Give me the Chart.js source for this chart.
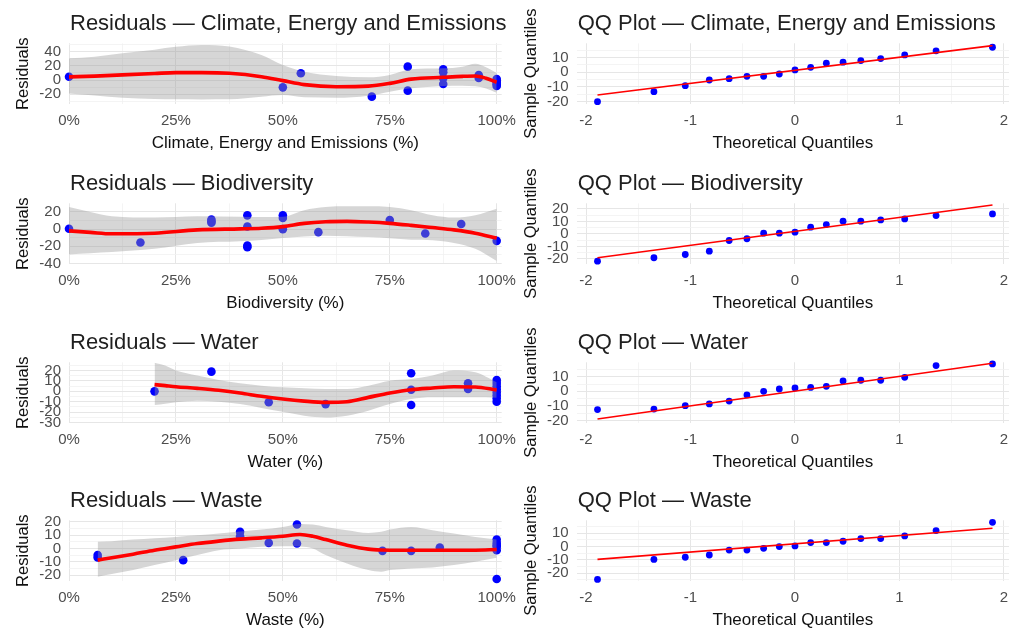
<!DOCTYPE html>
<html>
<head>
<meta charset="utf-8">
<script src="https://cdn.jsdelivr.net/npm/chart.js@4.4.1/dist/chart.umd.min.js"></script>
<style>
  html, body { margin: 0; padding: 0; background: #fff; }
  #page { position: relative; width: 1009px; height: 632px; overflow: hidden; background: #fff; }
  #page canvas { position: absolute; }
</style>
</head>
<body>
<div id="page"></div>
<script>
// ---------- data ----------
const theoQ = [-1.89, -1.35, -1.05, -0.82, -0.63, -0.46, -0.30, -0.15, 0, 0.15, 0.30, 0.46, 0.63, 0.82, 1.05, 1.35, 1.89];
const qqLineX = [-1.89, 1.89];

const pctMajor = [0, 25, 50, 75, 100];
const pctMinor = [12.5, 37.5, 62.5, 87.5];
const qqMajor = [-2, -1, 0, 1, 2];
const qqMinor = [-1.5, -0.5, 0.5, 1.5];

// Climate, Energy and Emissions
const climX = [0, 50, 54.2, 70.8, 79.2, 79.2, 87.5, 87.5, 87.5, 87.5, 95.8, 95.8, 100, 100, 100, 100, 100];
const climResid = [4.7, -10.4, 9.5, -23.6, 18.9, -15.1, 15.1, 11, 2.4, -5.7, 7.1, 3, 1.5, -1.5, -3.8, -6, -8.5];
const climGrid = [0, 6, 12.5, 20, 25, 31, 37.5, 45, 50, 55, 62.5, 70, 75, 80, 87.5, 92, 95, 97.5, 100];
const climFit = [4.5, 5.5, 7.3, 9.2, 10.4, 10.4, 9.5, 4.7, -0.9, -6.5, -9.5, -8.7, -4.8, 1.2, 3.8, 5.2, 5.7, 2.5, -3.2];
const climHi = [30.7, 33, 37.8, 43, 47, 49.6, 47.5, 35.5, 21.3, 11.8, 5.7, 3.8, 7.1, 15.1, 16.5, 18.9, 23, 18, 10];
const climLo = [-19, -22, -25, -27, -27.4, -27.6, -27.4, -23.6, -21.3, -24.6, -25.1, -22.2, -16.5, -11.8, -8.5, -8, -9, -12, -18];
const climQQ = [-20.2, -13.3, -9.2, -5.3, -4.4, -2.8, -2.8, -1.2, 1.6, 3.4, 6.2, 6.9, 8, 9.4, 11.9, 14.7, 17.2];
const climQQLine = [-15.6, 18.3];

// Biodiversity
const bioX = [0, 16.7, 33.3, 33.3, 33.3, 41.7, 41.7, 41.7, 41.7, 50, 50, 50, 58.3, 75, 83.3, 91.7, 100];
const bioResid = [0.5, -15.5, 11, 9, 7.5, 16, 3, -19, -21, 16, 13, 0, -3.5, 10.5, -5, 6, -13.6];
const bioGrid = [0, 5, 10, 20, 30, 40, 45, 50, 55, 60, 65, 70, 75, 80, 85, 90, 95, 100];
const bioFit = [-2, -3.8, -5.4, -4.7, -0.9, 0.3, 1, 2.9, 6.7, 8.6, 9, 8.2, 6.7, 4.4, 1.8, -0.9, -4.7, -10.4];
const bioHi = [25.7, 20, 15, 13.5, 15, 14.3, 14, 14.3, 22, 25.7, 26.5, 26.5, 25.7, 22, 16.2, 13.5, 16.2, 23.8];
const bioLo = [-29.4, -28, -26.7, -22.9, -16, -14.2, -12.5, -10.4, -8.5, -7.7, -8.2, -9.2, -10.5, -12.3, -13, -16, -22.9, -37];
const bioQQ = [-21.8, -19.1, -16.5, -13.8, -5.3, -3.9, 0.6, 0.6, 1.4, 5.4, 7.5, 10.2, 10.2, 11.2, 12, 14.7, 16];
const bioQQLine = [-19.1, 23.2];

// Water
const waterX = [20, 33.3, 46.7, 60, 80, 80, 80, 93.3, 93.3, 100, 100, 100, 100, 100, 100, 100, 100];
const waterResid = [0, 19, -10.5, -12.3, 17.4, 1.6, -13.2, 7.7, 2.3, 11, 8, 5, 2, -1, -4, -7, -10];
const waterGrid = [20, 22.5, 25, 30, 35, 40, 45, 50, 55, 60, 65, 70, 75, 80, 85, 90, 95, 100];
const waterFit = [6.5, 5.5, 4.5, 2.9, 1, -1.6, -4.8, -7.4, -9.4, -10.6, -10, -5.8, -1.6, 1.6, 3.2, 4.5, 4.2, 1.3];
const waterHi = [27.5, 24.8, 20, 15.2, 11, 7.7, 5.5, 3.9, 3, 2.3, 2.3, 5.5, 10.3, 11.9, 15.2, 20, 18.4, 8.7];
const waterLo = [-13.2, -12, -10.6, -9, -10, -12.3, -16, -19.7, -23.5, -25.2, -23.5, -18.7, -12.3, -7.4, -5.8, -5.8, -5.8, -6.1];
const waterQQ = [-12.6, -12.2, -9.9, -8.7, -6.7, -2.5, 0, 1.6, 2.3, 2.7, 3.4, 7.1, 7.6, 7.6, 9.6, 17.7, 18.8];
const waterQQLine = [-19.1, 19.3];

// Waste
const wasteX = [6.7, 6.7, 26.7, 40, 40, 46.7, 53.3, 53.3, 73.3, 80, 86.7, 100, 100, 100, 100, 100, 100];
const wasteResid = [-5, -6.8, -8.8, 12.5, 9.2, 4.2, 18, 3.7, -1.8, -1.8, 0.7, 6.7, 4.2, 2.5, 1.2, -1.3, -23];
const wasteGrid = [6.7, 10, 15, 20, 25, 30, 35, 40, 45, 50, 54, 57, 60, 65, 70, 73, 75, 80, 85, 90, 95, 100];
const wasteFit = [-8.8, -7, -4.3, -1.3, 1.2, 3.7, 5.5, 7, 8, 9.2, 10.5, 9.2, 6.7, 2.5, -0.5, -1.2, -1.3, -1.3, -1.3, -1.3, -1.3, -0.8];
const wasteHi = [5, 5.5, 6.7, 7.7, 8.7, 9.9, 11.2, 12.7, 14.2, 16.2, 18.5, 18, 16.2, 13.7, 11.7, 12.5, 14.2, 16.2, 13.7, 11.2, 8.7, 6.7];
const wasteLo = [-21.3, -19.3, -16.3, -12.5, -8.8, -5, -1.3, 0, 1.2, 1.7, 1.5, 0, -5, -11.3, -16.3, -17.5, -16.3, -15, -14.3, -12.5, -10, -7];
const wasteQQ = [-24.6, -9.6, -8, -6.3, -2.6, -2.6, -1.3, 0, 0.5, 3, 3, 4, 6, 6, 8, 12, 18.2];
const wasteQQLine = [-9.6, 13.7];

// ---------- layout ----------
const FONT = '"Liberation Sans", Arial, Helvetica, sans-serif';
const ROW_TOP = [0, 160, 319, 477];
const CANVAS_H = 159;
const page = document.getElementById('page');

const panelTitle = {
  id: 'panelTitle',
  afterDraw(chart, args, opts) {
    const ctx = chart.ctx;
    ctx.save();
    ctx.font = '22px ' + FONT;
    ctx.fillStyle = '#1f1f1f';
    ctx.textBaseline = 'alphabetic';
    ctx.fillText(opts.text, chart.chartArea.left + 1, 29.5);
    ctx.restore();
  }
};

function pairs(xs, ys) {
  return xs.map((x, i) => ({x: x, y: ys[i]}));
}

function axis(min, max, major, minor, fmt, extra) {
  const all = major.concat(minor).sort((a, b) => a - b);
  return Object.assign({
    type: 'linear',
    min: min,
    max: max,
    bounds: 'data',
    afterBuildTicks: s => { s.ticks = all.map(v => ({value: v})); },
    ticks: {
      autoSkip: false,
      maxRotation: 0,
      color: '#4d4d4d',
      font: {family: FONT, size: 15},
      padding: 8,
      callback: v => major.includes(v) ? fmt(v) : ''
    },
    grid: {
      drawTicks: false,
      color: c => (c.tick && major.includes(c.tick.value)) ? '#e6e6e6' : '#f1f1f1',
      lineWidth: c => (c.tick && major.includes(c.tick.value)) ? 1 : 0.8
    },
    border: {display: false}
  }, extra);
}

function makeChart(p, datasets, xAxis, yAxis) {
  const left = p.col === 0;
  const cv = document.createElement('canvas');
  const w = left ? 525 : 520;
  cv.width = w;
  cv.height = CANVAS_H;
  cv.style.left = (left ? 0 : 505) + 'px';
  cv.style.top = ROW_TOP[p.row] + 'px';
  cv.style.width = w + 'px';
  cv.style.height = CANVAS_H + 'px';
  page.appendChild(cv);

  xAxis.position = 'bottom';
  xAxis.afterFit = s => { s.height = 49.2; };
  xAxis.ticks.padding = 7.7;
  xAxis.title = {display: true, text: p.xTitle, color: '#111', font: {family: FONT, size: 17}, padding: 0};
  yAxis.position = 'left';
  yAxis.afterFit = s => { s.width = left ? 55.6 : 54.9; };
  yAxis.title = {display: true, text: p.yTitle, color: '#111', font: {family: FONT, size: 16.5}, padding: 0};

  new Chart(cv, {
    type: 'line',
    data: {datasets: datasets},
    options: {
      responsive: false,
      animation: false,
      events: [],
      layout: {padding: {top: 43.3, bottom: CANVAS_H - 153.2, left: left ? 13.4 : 16.8, right: left ? 23.3 : 16}},
      scales: {x: xAxis, y: yAxis},
      plugins: {legend: {display: false}, tooltip: {enabled: false}, panelTitle: {text: p.title}}
    },
    plugins: [panelTitle]
  });
}

function residualPanel(p) {
  const datasets = [
    {data: pairs(p.grid, p.hi), fill: '+1', backgroundColor: 'rgba(153,153,153,0.4)', borderColor: 'rgba(0,0,0,0)',
     borderWidth: 0, pointRadius: 0, cubicInterpolationMode: 'monotone', order: 2},
    {data: pairs(p.grid, p.lo), fill: false, borderColor: 'rgba(0,0,0,0)', borderWidth: 0, pointRadius: 0,
     cubicInterpolationMode: 'monotone', order: 2},
    {data: pairs(p.x, p.y), showLine: false, pointRadius: 4.3, pointBackgroundColor: '#0000ff',
     pointBorderWidth: 0, clip: false, order: 3},
    {data: pairs(p.grid, p.fit), fill: false, borderColor: '#ff0000', borderWidth: 3.6, pointRadius: 0,
     cubicInterpolationMode: 'monotone', order: 1}
  ];
  const xAxis = axis(0, 101.17, pctMajor, pctMinor, v => v + '%');
  const yAxis = axis(p.yMin, p.yMax, p.yMajor, p.yMinor, v => String(v));
  makeChart(Object.assign({col: 0, yTitle: 'Residuals'}, p), datasets, xAxis, yAxis);
}

function qqPanel(p) {
  const datasets = [
    {data: pairs(qqLineX, p.line), fill: false, borderColor: '#ff0000', borderWidth: 1.6, pointRadius: 0, order: 1},
    {data: pairs(theoQ, p.sample), showLine: false, pointRadius: 3.4, pointBackgroundColor: '#0000ff',
     pointBorderWidth: 0, clip: false, order: 2}
  ];
  const xAxis = axis(-2.089, 2.048, qqMajor, qqMinor, v => String(v));
  const yAxis = axis(p.yMin, p.yMax, p.yMajor, p.yMinor, v => String(v));
  makeChart(Object.assign({col: 1, xTitle: 'Theoretical Quantiles', yTitle: 'Sample Quantiles'}, p), datasets, xAxis, yAxis);
}

residualPanel({row: 0, title: 'Residuals — Climate, Energy and Emissions', xTitle: 'Climate, Energy and Emissions (%)',
  x: climX, y: climResid, grid: climGrid, fit: climFit, hi: climHi, lo: climLo,
  yMin: -34, yMax: 52, yMajor: [-20, 0, 20, 40], yMinor: [-30, -10, 10, 30, 50]});
residualPanel({row: 1, title: 'Residuals — Biodiversity', xTitle: 'Biodiversity (%)',
  x: bioX, y: bioResid, grid: bioGrid, fit: bioFit, hi: bioHi, lo: bioLo,
  yMin: -40.5, yMax: 30, yMajor: [-40, -20, 0, 20], yMinor: [-30, -10, 10]});
residualPanel({row: 2, title: 'Residuals — Water', xTitle: 'Water (%)',
  x: waterX, y: waterResid, grid: waterGrid, fit: waterFit, hi: waterHi, lo: waterLo,
  yMin: -30.5, yMax: 28, yMajor: [-30, -20, -10, 0, 10, 20], yMinor: [-25, -15, -5, 5, 15, 25]});
residualPanel({row: 3, title: 'Residuals — Waste', xTitle: 'Waste (%)',
  x: wasteX, y: wasteResid, grid: wasteGrid, fit: wasteFit, hi: wasteHi, lo: wasteLo,
  yMin: -24.5, yMax: 21.2, yMajor: [-20, -10, 0, 10, 20], yMinor: [-15, -5, 5, 15]});

qqPanel({row: 0, title: 'QQ Plot — Climate, Energy and Emissions', sample: climQQ, line: climQQLine,
  yMin: -21.8, yMax: 19.9, yMajor: [-20, -10, 0, 10], yMinor: [-15, -5, 5, 15]});
qqPanel({row: 1, title: 'QQ Plot — Biodiversity', sample: bioQQ, line: bioQQLine,
  yMin: -24.1, yMax: 24.5, yMajor: [-20, -10, 0, 10, 20], yMinor: [-15, -5, 5, 15]});
qqPanel({row: 2, title: 'QQ Plot — Water', sample: waterQQ, line: waterQQLine,
  yMin: -21.8, yMax: 19.95, yMajor: [-20, -10, 0, 10], yMinor: [-15, -5, 5, 15]});
qqPanel({row: 3, title: 'QQ Plot — Waste', sample: wasteQQ, line: wasteQQLine,
  yMin: -25.8, yMax: 19.7, yMajor: [-20, -10, 0, 10], yMinor: [-25, -15, -5, 5, 15]});
</script>
</body>
</html>
